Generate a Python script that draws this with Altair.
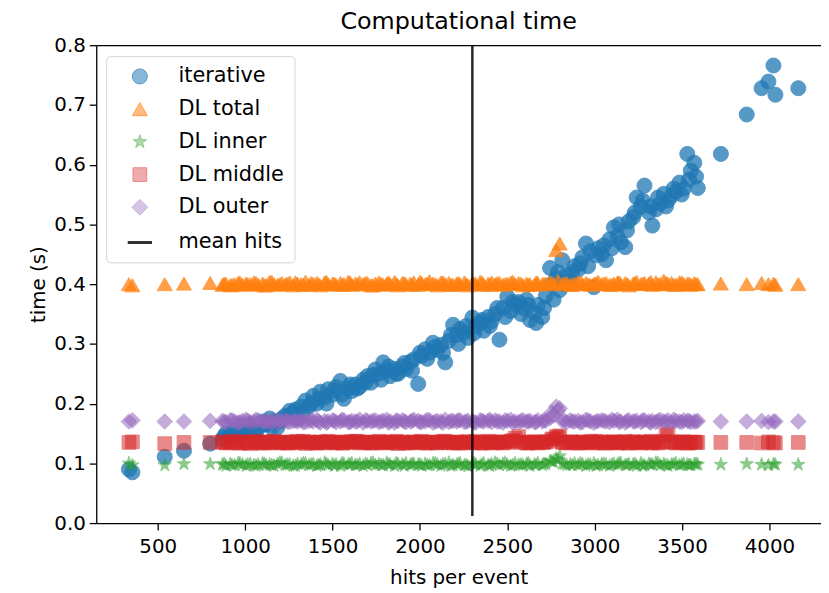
import altair as alt
import pandas as pd

# ---------------- data ----------------
hits = [
    335, 355, 540, 650, 800,
    870, 890, 915, 940, 960, 985, 1005, 1030, 1050, 1075,
    1100, 1120, 1140, 1165, 1185, 1210, 1230, 1255, 1275, 1300,
    1320, 1345, 1365, 1390, 1410, 1430, 1455, 1475, 1500, 1520,
    1545, 1565, 1590, 1610, 1630, 1655, 1675, 1700, 1720, 1745,
    1765, 1790, 1810, 1830, 1855, 1875, 1900, 1920, 1945, 1965,
    1990, 2010, 2030, 2055, 2075, 2100, 2120, 2145, 2165, 2190,
    2210, 2230, 2255, 2275, 2300, 2320, 2345, 2365, 2390, 2410,
    2430, 2455, 2475, 2500, 2520, 2545, 2565, 2590, 2610, 2630,
    2655, 2675, 2700, 2720, 2745, 2765, 2780, 2800, 2815, 2840,
    2860, 2885, 2905, 2930, 2950, 2975, 2995, 3020, 3040, 3065,
    3085, 3110, 3130, 3150, 3175, 3195, 3220, 3240, 3265, 3285,
    3310, 3330, 3350, 3375, 3395, 3420, 3440, 3465, 3485, 3510,
    3530, 3550, 3570, 3590,
    3722, 3870, 3955, 3994, 4023, 4034, 4165,
    880, 925, 970, 1015, 1062, 1110, 1152, 1198, 1242, 1288,
    1332, 1378, 1420, 1465, 1510, 1555, 1600, 1642, 1688, 1732,
    1778, 1820, 1865, 1910, 1955, 2000, 2042, 2088, 2132, 2178,
    2220, 2265, 2310, 2355, 2400, 2442, 2488, 2532, 2578, 2620,
    2665, 2710, 2755, 2790, 2828, 2872, 2918, 2962, 3008, 3052,
    3098, 3140, 3185, 3230, 3275, 3320, 3362, 3408, 3452, 3498,
    3540, 3580,
]

iterative = [
    0.090, 0.085, 0.111, 0.121, 0.133,
    0.140, 0.150, 0.145, 0.155, 0.150, 0.160, 0.150, 0.165, 0.155, 0.160,
    0.170, 0.165, 0.175, 0.170, 0.160, 0.175, 0.180, 0.188, 0.185, 0.175,
    0.195, 0.205, 0.195, 0.213, 0.200, 0.220, 0.210, 0.224, 0.215, 0.228,
    0.238, 0.208, 0.225, 0.221, 0.232, 0.228, 0.240, 0.246, 0.235, 0.257,
    0.250, 0.269, 0.255, 0.246, 0.258, 0.250, 0.262, 0.258, 0.270, 0.274,
    0.233, 0.280, 0.291, 0.285, 0.302, 0.290, 0.298, 0.269, 0.305, 0.332,
    0.315, 0.325, 0.319, 0.310, 0.344, 0.329, 0.335, 0.322, 0.345, 0.338,
    0.350, 0.307, 0.360, 0.379, 0.355, 0.365, 0.370, 0.360, 0.374, 0.340,
    0.352, 0.365, 0.345, 0.380, 0.427, 0.374, 0.410, 0.390, 0.440, 0.415,
    0.405, 0.430, 0.424, 0.445, 0.468, 0.455, 0.395, 0.460, 0.450, 0.440,
    0.475, 0.495, 0.480, 0.470, 0.462, 0.505, 0.512, 0.545, 0.530, 0.565,
    0.520, 0.498, 0.525, 0.535, 0.551, 0.540, 0.548, 0.555, 0.570, 0.560,
    0.618, 0.590, 0.603, 0.561,
    0.618, 0.684, 0.728, 0.739, 0.766, 0.717, 0.728,
    0.145, 0.150, 0.145, 0.160, 0.150, 0.165, 0.160, 0.170, 0.178, 0.190,
    0.185, 0.200, 0.208, 0.200, 0.222, 0.215, 0.232, 0.225, 0.235, 0.248,
    0.240, 0.262, 0.250, 0.268, 0.255, 0.285, 0.275, 0.295, 0.285, 0.315,
    0.300, 0.330, 0.318, 0.340, 0.330, 0.360, 0.345, 0.370, 0.350, 0.365,
    0.335, 0.360, 0.400, 0.420, 0.400, 0.420, 0.435, 0.430, 0.448, 0.465,
    0.460, 0.500, 0.490, 0.520, 0.540, 0.530, 0.545, 0.530, 0.560, 0.550,
    0.575, 0.580,
]

dl_total = [
    0.400, 0.398, 0.400, 0.401, 0.402,
    0.399, 0.401, 0.398, 0.400, 0.402, 0.399, 0.401, 0.400, 0.403, 0.399,
    0.401, 0.398, 0.404, 0.400, 0.399, 0.402, 0.400, 0.403, 0.398, 0.401,
    0.400, 0.404, 0.399, 0.401, 0.402, 0.398, 0.403, 0.400, 0.401, 0.399,
    0.402, 0.400, 0.404, 0.399, 0.401, 0.403, 0.400, 0.402, 0.398, 0.401,
    0.403, 0.399, 0.401, 0.400, 0.404, 0.398, 0.402, 0.400, 0.401, 0.403,
    0.399, 0.402, 0.400, 0.405, 0.401, 0.398, 0.403, 0.400, 0.402, 0.399,
    0.401, 0.400, 0.403, 0.398, 0.402, 0.400, 0.404, 0.399, 0.401, 0.403,
    0.400, 0.402, 0.399, 0.401, 0.403, 0.400, 0.402, 0.398, 0.401, 0.400,
    0.399, 0.402, 0.400, 0.401, 0.403, 0.400, 0.457, 0.468, 0.401, 0.402,
    0.399, 0.401, 0.403, 0.400, 0.402, 0.399, 0.401, 0.404, 0.400, 0.402,
    0.399, 0.401, 0.403, 0.400, 0.402, 0.398, 0.401, 0.404, 0.400, 0.402,
    0.401, 0.399, 0.403, 0.400, 0.406, 0.401, 0.402, 0.399, 0.403, 0.400,
    0.401, 0.399, 0.402, 0.400,
    0.401, 0.400, 0.402, 0.400, 0.401, 0.399, 0.400,
    0.401, 0.399, 0.403, 0.400, 0.402, 0.398, 0.404, 0.400, 0.401, 0.403,
    0.399, 0.402, 0.400, 0.404, 0.401, 0.399, 0.403, 0.400, 0.402, 0.398,
    0.401, 0.403, 0.400, 0.402, 0.399, 0.404, 0.401, 0.400, 0.403, 0.399,
    0.402, 0.400, 0.401, 0.403, 0.399, 0.402, 0.400, 0.404, 0.401, 0.399,
    0.403, 0.400, 0.402, 0.405, 0.401, 0.399, 0.403, 0.400, 0.402, 0.401,
    0.399, 0.403, 0.400, 0.402, 0.401, 0.404, 0.400, 0.402, 0.399, 0.403,
    0.401, 0.400,
]

dl_inner = [
    0.100, 0.097, 0.097, 0.099, 0.099,
    0.098, 0.096, 0.099, 0.097, 0.100, 0.098, 0.096, 0.099, 0.097, 0.098,
    0.100, 0.097, 0.098, 0.096, 0.099, 0.101, 0.097, 0.098, 0.096, 0.099,
    0.098, 0.100, 0.097, 0.099, 0.096, 0.098, 0.101, 0.097, 0.099, 0.098,
    0.096, 0.099, 0.098, 0.100, 0.097, 0.099, 0.096, 0.098, 0.100, 0.097,
    0.099, 0.097, 0.101, 0.098, 0.096, 0.099, 0.098, 0.100, 0.097, 0.099,
    0.098, 0.096, 0.099, 0.097, 0.100, 0.098, 0.096, 0.099, 0.101, 0.097,
    0.098, 0.100, 0.097, 0.095, 0.099, 0.098, 0.096, 0.100, 0.097, 0.099,
    0.101, 0.097, 0.099, 0.098, 0.096, 0.100, 0.098, 0.097, 0.099, 0.096,
    0.098, 0.100, 0.097, 0.099, 0.104, 0.102, 0.108, 0.112, 0.099, 0.097,
    0.098, 0.100, 0.097, 0.099, 0.096, 0.098, 0.100, 0.097, 0.099, 0.098,
    0.096, 0.099, 0.098, 0.100, 0.097, 0.099, 0.098, 0.096, 0.100, 0.097,
    0.099, 0.098, 0.101, 0.097, 0.099, 0.096, 0.098, 0.100, 0.097, 0.099,
    0.098, 0.097, 0.099, 0.098,
    0.098, 0.099, 0.098, 0.097, 0.099, 0.098, 0.098,
    0.099, 0.097, 0.100, 0.098, 0.096, 0.099, 0.097, 0.101, 0.098, 0.096,
    0.100, 0.098, 0.097, 0.099, 0.096, 0.100, 0.098, 0.097, 0.099, 0.101,
    0.097, 0.098, 0.100, 0.096, 0.099, 0.098, 0.097, 0.100, 0.098, 0.096,
    0.099, 0.097, 0.100, 0.098, 0.096, 0.099, 0.101, 0.097, 0.098, 0.100,
    0.097, 0.099, 0.103, 0.106, 0.099, 0.097, 0.100, 0.098, 0.096, 0.099,
    0.098, 0.100, 0.097, 0.099, 0.096, 0.098, 0.100, 0.097, 0.099, 0.098,
    0.097, 0.099,
]

dl_middle = [
    0.135, 0.136, 0.133, 0.135, 0.135,
    0.136, 0.134, 0.135, 0.137, 0.134, 0.136, 0.135, 0.133, 0.136, 0.135,
    0.134, 0.136, 0.135, 0.137, 0.134, 0.135, 0.136, 0.134, 0.135, 0.137,
    0.135, 0.133, 0.136, 0.135, 0.134, 0.136, 0.135, 0.137, 0.134, 0.135,
    0.136, 0.134, 0.135, 0.136, 0.137, 0.134, 0.135, 0.136, 0.134, 0.135,
    0.137, 0.135, 0.134, 0.136, 0.135, 0.133, 0.136, 0.135, 0.134, 0.136,
    0.135, 0.137, 0.134, 0.135, 0.136, 0.134, 0.135, 0.137, 0.135, 0.134,
    0.136, 0.135, 0.134, 0.136, 0.135, 0.137, 0.134, 0.135, 0.136, 0.134,
    0.135, 0.136, 0.134, 0.135, 0.137, 0.142, 0.145, 0.136, 0.134, 0.135,
    0.136, 0.134, 0.135, 0.136, 0.137, 0.140, 0.145, 0.146, 0.135, 0.134,
    0.136, 0.135, 0.134, 0.136, 0.135, 0.137, 0.134, 0.135, 0.136, 0.134,
    0.135, 0.136, 0.134, 0.135, 0.137, 0.134, 0.136, 0.135, 0.134, 0.136,
    0.135, 0.134, 0.136, 0.135, 0.137, 0.150, 0.136, 0.134, 0.135, 0.136,
    0.134, 0.135, 0.136, 0.135,
    0.135, 0.135, 0.134, 0.136, 0.135, 0.134, 0.135,
    0.135, 0.136, 0.134, 0.135, 0.137, 0.134, 0.136, 0.135, 0.134, 0.136,
    0.137, 0.135, 0.134, 0.136, 0.135, 0.134, 0.136, 0.137, 0.135, 0.134,
    0.136, 0.135, 0.137, 0.134, 0.135, 0.136, 0.134, 0.135, 0.137, 0.135,
    0.134, 0.136, 0.135, 0.134, 0.137, 0.135, 0.136, 0.138, 0.135, 0.134,
    0.136, 0.135, 0.141, 0.143, 0.135, 0.136, 0.134, 0.135, 0.137, 0.134,
    0.136, 0.135, 0.134, 0.136, 0.135, 0.137, 0.134, 0.147, 0.135, 0.136,
    0.134, 0.135,
]

dl_outer = [
    0.170, 0.172, 0.170, 0.170, 0.171,
    0.171, 0.169, 0.172, 0.170, 0.168, 0.171, 0.173, 0.169, 0.170, 0.172,
    0.169, 0.171, 0.170, 0.173, 0.168, 0.170, 0.172, 0.169, 0.171, 0.170,
    0.172, 0.169, 0.171, 0.170, 0.173, 0.168, 0.171, 0.170, 0.172, 0.169,
    0.170, 0.172, 0.169, 0.171, 0.170, 0.173, 0.168, 0.171, 0.170, 0.172,
    0.169, 0.171, 0.173, 0.170, 0.168, 0.171, 0.172, 0.169, 0.170, 0.173,
    0.171, 0.169, 0.170, 0.172, 0.168, 0.171, 0.170, 0.173, 0.169, 0.171,
    0.170, 0.172, 0.169, 0.171, 0.170, 0.168, 0.172, 0.170, 0.171, 0.169,
    0.172, 0.170, 0.168, 0.171, 0.173, 0.170, 0.169, 0.172, 0.170, 0.171,
    0.169, 0.172, 0.170, 0.171, 0.176, 0.180, 0.195, 0.192, 0.171, 0.169,
    0.172, 0.170, 0.171, 0.169, 0.173, 0.170, 0.168, 0.171, 0.172, 0.170,
    0.169, 0.171, 0.173, 0.170, 0.168, 0.172, 0.170, 0.171, 0.169, 0.172,
    0.170, 0.171, 0.169, 0.173, 0.170, 0.172, 0.168, 0.171, 0.170, 0.172,
    0.171, 0.169, 0.170, 0.171,
    0.170, 0.170, 0.171, 0.169, 0.170, 0.170, 0.170,
    0.170, 0.172, 0.169, 0.171, 0.173, 0.170, 0.168, 0.172, 0.170, 0.171,
    0.169, 0.172, 0.170, 0.168, 0.171, 0.173, 0.169, 0.170, 0.172, 0.171,
    0.170, 0.168, 0.172, 0.170, 0.171, 0.169, 0.173, 0.170, 0.168, 0.171,
    0.172, 0.170, 0.169, 0.171, 0.173, 0.170, 0.172, 0.168, 0.171, 0.170,
    0.169, 0.172, 0.185, 0.188, 0.171, 0.170, 0.168, 0.172, 0.170, 0.171,
    0.173, 0.169, 0.171, 0.170, 0.172, 0.168, 0.171, 0.170, 0.173, 0.169,
    0.171, 0.170,
]

mean_hits = 2300
x_ticks = [500, 1000, 1500, 2000, 2500, 3000, 3500, 4000]
y_ticks = [0.0, 0.1, 0.2, 0.3, 0.4, 0.5, 0.6, 0.7, 0.8]
series_names = ["iterative", "DL total", "DL inner", "DL middle", "DL outer", "mean hits"]

# ---------------- styles ----------------
colors = ["#1f77b4", "#ff7f0e", "#2ca02c", "#d62728", "#9467bd", "#000000"]
STAR = ("M0,-1L0.2245,-0.309L0.951,-0.309L0.363,0.118L0.588,0.809L0,0.382"
        "L-0.588,0.809L-0.363,0.118L-0.951,-0.309L-0.2245,-0.309Z")
shapes = ["circle", "triangle-up", STAR, "square", "diamond", "stroke"]
sizes = [230, 230, 200, 190, 250, 600]
opacities = [0.75, 0.75, 0.55, 0.55, 0.55, 0.8]
stroke_widths = [1, 1, 1, 1, 1, 3]
FONT = "DejaVu Sans"

rows = []
for name, vals in zip(series_names[:5], [iterative, dl_total, dl_inner, dl_middle, dl_outer]):
    for h, v in zip(hits, vals):
        rows.append({"hits": h, "time": v, "series": name})
df = pd.DataFrame(rows)

rule_df = pd.DataFrame({"hits": [mean_hits], "time": [0.012], "time_end": [0.8]})

xscale = alt.Scale(domain=[148, 4295], nice=False, zero=False)
yscale = alt.Scale(domain=[0, 0.8], nice=False, zero=True)

x_axis = alt.Axis(values=x_ticks, title="hits per event", format="d", labelFlush=False,
                  labelPadding=7, titlePadding=11)
y_axis = alt.Axis(values=y_ticks, title="time (s)", format=".1f", labelFlush=False,
                  labelPadding=4, titlePadding=5)

leg = alt.Legend(
    title=None, orient="none", legendX=10, legendY=11,
    fillColor="white", strokeColor="#d5d5d5", cornerRadius=4, padding=10,
    labelFont=FONT, labelFontSize=21, labelColor="black", labelOffset=25,
    symbolOffset=10, rowPadding=11,
)

dom = series_names
points = alt.Chart(df).mark_point(filled=False).encode(
    x=alt.X("hits:Q", scale=xscale, axis=x_axis),
    y=alt.Y("time:Q", scale=yscale, axis=y_axis),
    fill=alt.Fill("series:N", scale=alt.Scale(domain=dom, range=colors), legend=leg),
    stroke=alt.Stroke("series:N", scale=alt.Scale(domain=dom, range=colors), legend=leg),
    shape=alt.Shape("series:N", scale=alt.Scale(domain=dom, range=shapes), legend=leg),
    size=alt.Size("series:N", scale=alt.Scale(type="ordinal", domain=dom, range=sizes), legend=leg),
    opacity=alt.Opacity("series:N", scale=alt.Scale(type="ordinal", domain=dom, range=opacities), legend=leg),
    strokeWidth=alt.StrokeWidth("series:N", scale=alt.Scale(type="ordinal", domain=dom, range=stroke_widths), legend=leg),
)

rule = alt.Chart(rule_df).mark_rule(color="black", strokeWidth=2.5, opacity=0.85).encode(
    x=alt.X("hits:Q", scale=xscale, axis=None),
    y=alt.Y("time:Q", scale=yscale, axis=y_axis),
    y2="time_end:Q",
)

top = alt.Chart(rule_df).mark_point(opacity=0).encode(
    x=alt.X("hits:Q", scale=xscale,
            axis=alt.Axis(orient="top", labels=False, ticks=False, title=None, domain=True)),
    y=alt.Y("time:Q", scale=yscale, axis=y_axis),
)

chart = alt.layer(points, rule, top).resolve_axis(x="independent").properties(
    width=731, height=482,
    title=alt.TitleParams("Computational time", anchor="middle", font=FONT, fontSize=24,
                          fontWeight="normal", color="black", offset=1),
    autosize=alt.AutoSizeParams(type="none"),
    padding={"left": 89, "top": 35, "right": 0, "bottom": 68},
).configure_axis(
    grid=False, domainColor="black", domainWidth=1.3, tickColor="black", tickWidth=1.3,
    tickSize=7, labelFont=FONT, labelFontSize=20, labelColor="black",
    titleFont=FONT, titleFontSize=20, titleFontWeight="normal", titleColor="black",
).configure_view(stroke=None)

chart.save("out.html", embed_options={"renderer": "svg", "actions": False})
